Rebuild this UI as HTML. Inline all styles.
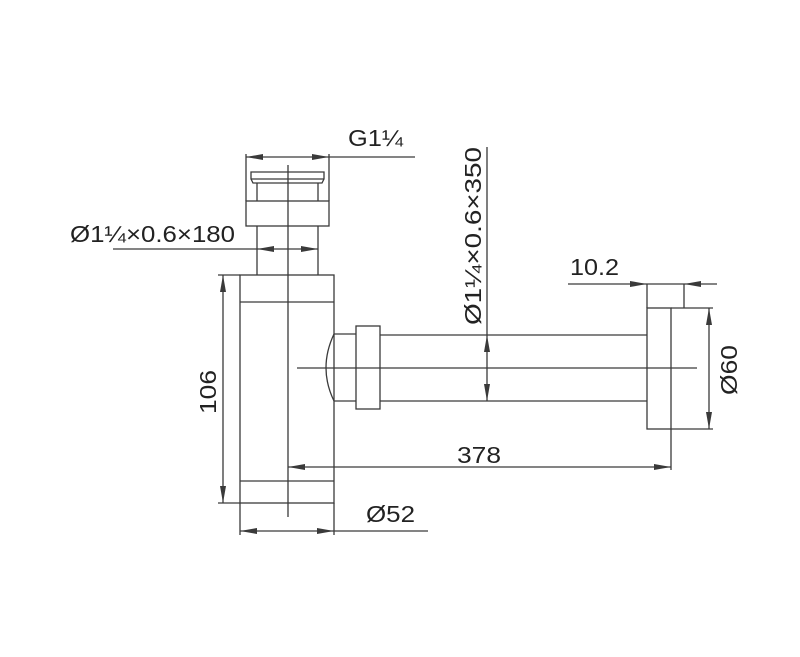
<!DOCTYPE html>
<html><head><meta charset="utf-8"><style>html,body{margin:0;padding:0;background:#fff}svg{display:block}</style></head>
<body>
<svg width="800" height="657" viewBox="0 0 800 657" xmlns="http://www.w3.org/2000/svg">
<g stroke="#3a3a3a" stroke-width="1.3" fill="none">
<!-- cap -->
<path d="M251 172 H324 V179 L322 183 H253 L251 179 Z"/>
<line x1="251" y1="179" x2="324" y2="179"/>
<line x1="257" y1="183" x2="257" y2="201"/>
<line x1="318" y1="183" x2="318" y2="201"/>
<rect x="246" y="201" width="83" height="25"/>
<line x1="257" y1="226" x2="257" y2="275"/>
<line x1="318" y1="226" x2="318" y2="275"/>
<!-- body -->
<rect x="240" y="275" width="94" height="228"/>
<line x1="240" y1="302" x2="334" y2="302"/>
<line x1="240" y1="481" x2="334" y2="481"/>
<!-- arc and nut -->
<path d="M334 334 Q318 368 334 401"/>
<line x1="334" y1="334" x2="356" y2="334"/>
<line x1="334" y1="401" x2="356" y2="401"/>
<rect x="356" y="326" width="24" height="83"/>
<line x1="380" y1="335" x2="647" y2="335"/>
<line x1="380" y1="401" x2="647" y2="401"/>
<!-- flange -->
<rect x="647" y="308" width="24" height="121"/>
<!-- center lines -->
<line x1="288" y1="165" x2="288" y2="517"/>
<line x1="297" y1="368" x2="697" y2="368"/>
<!-- G dim -->
<line x1="246" y1="154" x2="246" y2="201"/>
<line x1="329" y1="154" x2="329" y2="201"/>
<line x1="246" y1="157" x2="415" y2="157"/>
<!-- 180 dim -->
<line x1="113" y1="249" x2="318" y2="249"/>
<!-- 106 dim -->
<line x1="218" y1="275" x2="240" y2="275"/>
<line x1="218" y1="503" x2="240" y2="503"/>
<line x1="223" y1="275" x2="223" y2="503"/>
<!-- 52 dim -->
<line x1="240" y1="503" x2="240" y2="535"/>
<line x1="334" y1="503" x2="334" y2="535"/>
<line x1="240" y1="531" x2="428" y2="531"/>
<!-- pipe dia dim -->
<line x1="487" y1="147" x2="487" y2="401"/>
<!-- 10.2 dim -->
<line x1="568" y1="284" x2="717" y2="284"/>
<line x1="647" y1="284" x2="647" y2="308"/>
<line x1="684" y1="284" x2="684" y2="308"/>
<!-- 60 dim -->
<line x1="671" y1="308" x2="713" y2="308"/>
<line x1="671" y1="429" x2="713" y2="429"/>
<line x1="709" y1="308" x2="709" y2="429"/>
<!-- 378 dim -->
<line x1="671" y1="429" x2="671" y2="470"/>
<line x1="288" y1="467" x2="671" y2="467"/>
</g>
<g fill="#3a3a3a">
<polygon points="246,157 263,154 263,160"/>
<polygon points="329,157 312,154 312,160"/>
<polygon points="257,249 274,246 274,252"/>
<polygon points="318,249 301,246 301,252"/>
<polygon points="223,275 220,292 226,292"/>
<polygon points="223,503 220,486 226,486"/>
<polygon points="240,531 257,528 257,534"/>
<polygon points="334,531 317,528 317,534"/>
<polygon points="487,335 484,352 490,352"/>
<polygon points="487,401 484,384 490,384"/>
<polygon points="647,284 630,281 630,287"/>
<polygon points="684,284 701,281 701,287"/>
<polygon points="709,308 706,325 712,325"/>
<polygon points="709,429 706,412 712,412"/>
<polygon points="288,467 305,464 305,470"/>
<polygon points="671,467 654,464 654,470"/>
</g>
<g font-family="Liberation Sans, sans-serif" font-size="23" fill="#222">
<text x="348" y="146" textLength="55" lengthAdjust="spacingAndGlyphs">G1¼</text>
<text x="70" y="242" textLength="165" lengthAdjust="spacingAndGlyphs">Ø1¼×0.6×180</text>
<text x="570" y="275" textLength="49" lengthAdjust="spacingAndGlyphs">10.2</text>
<text x="457" y="463" textLength="44" lengthAdjust="spacingAndGlyphs">378</text>
<text x="366" y="522" textLength="49" lengthAdjust="spacingAndGlyphs">Ø52</text>
<text transform="translate(216,414) rotate(-90)" textLength="44" lengthAdjust="spacingAndGlyphs">106</text>
<text transform="translate(481,325) rotate(-90)" textLength="178" lengthAdjust="spacingAndGlyphs">Ø1¼×0.6×350</text>
<text transform="translate(737,395) rotate(-90)" textLength="50" lengthAdjust="spacingAndGlyphs">Ø60</text>
</g>
</svg>
</body></html>
